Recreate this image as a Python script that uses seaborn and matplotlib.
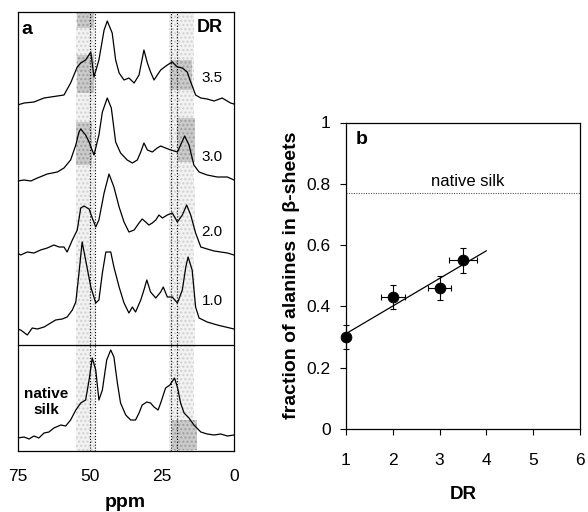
import numpy as np
import matplotlib
matplotlib.use("Agg")
import matplotlib.pyplot as plt
import seaborn as sns

# ---------------------------------------------------------------- panel a data
# 13C CP/MAS spectra, chemical shift (ppm) and intensity above own baseline
ppm_35 = [75.0, 72.7, 69.3, 65.8, 63.5, 58.9, 56.6, 54.3, 53.1, 51.4, 49.6, 48.5,
          46.8, 45.0, 43.9, 42.2, 41.0, 39.8, 38.1, 36.4, 34.6, 32.9, 31.2, 30.0,
          28.9, 27.7, 25.4, 23.1, 21.4, 19.6, 17.9, 16.2, 15.0, 13.3, 11.5, 9.3,
          6.9, 4.1, 1.2, 0.0]
int_35 = [0, 2, 3, 7, 8, 10, 22, 38, 42, 45, 53, 28, 45, 75, 84, 72, 45, 32, 25,
          27, 22, 30, 55, 42, 33, 25, 35, 40, 43, 38, 37, 33, 23, 10, 7, 6, 4, 7,
          2, 1]

ppm_30 = [75.0, 72.7, 70.4, 68.1, 64.7, 61.2, 58.9, 56.6, 54.8, 53.7, 53.1, 51.4,
          50.2, 48.5, 46.8, 45.6, 43.9, 42.5, 41.0, 39.3, 37.0, 35.2, 33.5, 32.3,
          31.2, 30.0, 28.3, 26.6, 25.4, 23.7, 21.9, 19.6, 18.5, 17.1, 15.6, 13.9,
          12.1, 9.3, 5.8, 2.3, 0.0]
int_30 = [0, 1, 0, 3, 7, 9, 13, 21, 36, 49, 52, 46, 39, 26, 46, 69, 83, 73, 39,
          28, 21, 18, 21, 29, 38, 31, 29, 33, 35, 33, 31, 29, 36, 45, 36, 16, 9, 6,
          4, 4, 1]

ppm_20 = [75.0, 73.9, 71.6, 69.3, 67.0, 64.7, 62.4, 60.6, 58.9, 57.8, 56.0, 54.3,
          53.1, 52.0, 50.2, 49.1, 47.9, 46.8, 45.0, 43.3, 41.6, 39.8, 38.1, 36.4,
          34.6, 32.9, 31.8, 30.6, 29.5, 28.3, 27.1, 26.0, 24.8, 23.1, 21.4, 19.6,
          17.9, 16.4, 15.0, 13.3, 11.5, 9.3, 6.9, 4.6, 2.3, 0.0]
int_20 = [1, -1, 2, 1, 4, 6, 9, 7, 7, 2, 14, 24, 46, 48, 45, 36, 27, 34, 61, 80,
          67, 47, 32, 22, 24, 31, 35, 32, 29, 31, 34, 39, 36, 39, 41, 32, 39, 49,
          39, 21, 7, 5, 3, 2, 1, -1]

ppm_10 = [75.0, 73.9, 71.6, 69.9, 68.1, 65.8, 63.5, 61.8, 59.5, 57.8, 56.0, 54.8,
          53.7, 52.6, 51.4, 49.6, 47.9, 46.8, 45.6, 44.4, 42.7, 41.6, 39.8, 38.1,
          36.4, 35.2, 34.1, 32.3, 31.2, 30.2, 28.9, 27.1, 25.4, 24.5, 23.1, 21.4,
          19.6, 17.9, 16.7, 15.9, 14.5, 13.3, 12.1, 9.3, 5.8, 2.9, 0.0]
int_10 = [2, 1, -4, 3, 2, 4, 8, 11, 12, 14, 21, 29, 58, 89, 71, 44, 28, 31, 58,
          79, 79, 64, 44, 28, 18, 24, 19, 31, 41, 51, 39, 33, 39, 44, 34, 34, 28,
          41, 64, 74, 61, 24, 13, 9, 6, 4, 2]

ppm_nat = [75.0, 72.7, 71.0, 69.3, 67.6, 65.8, 64.1, 62.4, 60.0, 58.3, 56.6, 54.8,
           53.1, 51.4, 50.2, 49.1, 47.9, 46.8, 45.6, 44.1, 42.7, 41.6, 40.4, 39.3,
           37.5, 35.8, 34.1, 32.9, 31.8, 30.2, 28.9, 27.7, 26.3, 25.4, 23.7, 22.2,
           20.6, 19.6, 18.5, 17.3, 15.6, 13.9, 11.5, 9.3, 6.9, 4.6, 2.3, 0.0]
int_nat = [0, 1, -1, 2, 0, 5, 6, 10, 13, 12, 18, 28, 35, 38, 58, 80, 68, 38, 48,
           78, 88, 81, 55, 35, 23, 18, 18, 25, 33, 36, 35, 31, 28, 35, 50, 53, 60,
           51, 35, 25, 20, 13, 6, 4, 3, 4, 2, 3]

dr_labels = ["3.5", "3.0", "2.0", "1.0"]
ppm_ticks = [75, 50, 25, 0]
ref_lines = [50.0, 48.3, 21.8, 19.8]      # dotted reference shifts

# ---------------------------------------------------------------- panel b data
dr = [1.0, 2.0, 3.0, 3.5]
frac = [0.30, 0.43, 0.46, 0.55]
frac_err = [0.04, 0.04, 0.04, 0.04]
dr_err = [0.0, 0.25, 0.25, 0.30]
native_frac = 0.77

# ---------------------------------------------------------------- layout
offsets = [346, 270, 197, 120, 13]        # stacking baselines (panel units)
label_y = [373, 294, 219, 150]
sep_y = 106
# shaded regions: (ppm_hi, ppm_lo, y0, y1, dark)
shades = [(54.7, 48.2, 0, 439, False), (22.5, 13.9, 0, 439, False),
          (54.4, 48.6, 423, 439, True), (54.4, 48.6, 358, 396, True),
          (22.0, 14.5, 361, 391, True), (54.8, 49.3, 286, 329, True),
          (19.9, 13.6, 289, 333, True), (21.6, 13.6, 211, 264, False),
          (54.4, 47.9, 104, 161, False), (21.6, 13.6, 104, 178, False),
          (21.6, 12.8, 1, 31, True)]

sns.set_theme(style="white")
plt.rcParams["font.family"] = ["Liberation Sans", "DejaVu Sans"]
plt.rcParams.update({"text.color": "black", "axes.labelcolor": "black",
                     "xtick.color": "black", "ytick.color": "black"})

fig = plt.figure(figsize=(5.88, 5.12), dpi=100)
ax_a = fig.add_axes([17.5 / 588, 61 / 512, 216.5 / 588, 439 / 512])
ax_b = fig.add_axes([346 / 588, 83 / 512, 234 / 588, 306.5 / 512])

# ---------------------------------------------------------------- panel a
for x0, x1, y0, y1, dark in shades:
    if dark:
        ax_a.fill_between([x0, x1], y0, y1, facecolor="#cacaca",
                          edgecolor="#a0a0a0", hatch="....", lw=0, zorder=1)
    else:
        ax_a.fill_between([x0, x1], y0, y1, facecolor="#f2f2f2",
                          edgecolor="#d0d0d0", hatch="....", lw=0, zorder=0.5)

for x in ref_lines:
    ax_a.axvline(x, color="black", lw=0.8, ls=(0, (1, 1.6)), zorder=2)

spectra = [(ppm_35, int_35), (ppm_30, int_30), (ppm_20, int_20),
           (ppm_10, int_10), (ppm_nat, int_nat)]
for (p, i), off in zip(spectra, offsets):
    sns.lineplot(x=p, y=np.array(i) + off, ax=ax_a, color="black", lw=0.9,
                 sort=False, estimator=None, zorder=3)

ax_a.axhline(sep_y, color="black", lw=0.9, zorder=3)

for lab, y in zip(dr_labels, label_y):
    ax_a.text(7.6, y, lab, ha="center", va="center", fontsize=11)
ax_a.text(8.4, 424, "DR", ha="center", va="center", fontsize=13,
          fontweight="bold")
ax_a.text(71.8, 421, "a", ha="center", va="center", fontsize=14,
          fontweight="bold")
ax_a.text(65.0, 49, "native\nsilk", ha="center", va="center", fontsize=11,
          fontweight="bold", linespacing=1.2)

ax_a.set_xlim(75, 0)
ax_a.set_ylim(0, 439)
ax_a.set_yticks([])
ax_a.set_xticks(ppm_ticks)
ax_a.set_xticklabels([str(t) for t in ppm_ticks])
ax_a.tick_params(axis="x", direction="in", length=4, width=0.8, pad=13,
                 labelsize=12.5, top=False)
ax_a.set_xlabel("ppm", fontsize=14, fontweight="bold", labelpad=7)
for s in ax_a.spines.values():
    s.set_linewidth(0.9)
    s.set_color("black")

# ---------------------------------------------------------------- panel b
ax_b.axhline(native_frac, color="#555555", lw=0.8, ls=(0, (1, 1.2)))
ax_b.text(3.6, native_frac + 0.012, "native silk", ha="center", va="bottom",
          fontsize=12)

slope, icept = np.polyfit(dr, frac, 1)
fit_x = np.array([1.0, 4.0])
sns.lineplot(x=fit_x, y=slope * fit_x + icept, ax=ax_b, color="black", lw=0.9)

eb = ax_b.errorbar(dr, frac, yerr=frac_err, xerr=dr_err, fmt="none",
                   ecolor="black", elinewidth=0.8, capsize=2.5, capthick=0.8,
                   zorder=3)
for art in eb.lines[1] + eb.lines[2]:
    art.set_clip_on(False)
sns.scatterplot(x=dr, y=frac, ax=ax_b, color="black", s=60, edgecolor="black",
                zorder=4, clip_on=False)

ax_b.text(1.34, 0.943, "b", ha="center", va="center", fontsize=14,
          fontweight="bold")
ax_b.set_xlim(1, 6)
ax_b.set_ylim(0, 1)
ax_b.set_xticks([1, 2, 3, 4, 5, 6])
ax_b.set_yticks([0, 0.2, 0.4, 0.6, 0.8, 1])
ax_b.set_yticklabels(["0", "0.2", "0.4", "0.6", "0.8", "1"])
ax_b.tick_params(direction="out", length=4, width=0.8, labelsize=12.5,
                 bottom=True, left=True)
ax_b.tick_params(axis="x", pad=13)
ax_b.tick_params(axis="y", pad=7)
ax_b.set_xlabel("DR", fontsize=13.5, fontweight="bold", labelpad=13)
ax_b.set_ylabel("fraction of alanines in \u03b2-sheets", fontsize=14,
                fontweight="bold")
ax_b.yaxis.set_label_coords(-0.197, 0.5)
for s in ax_b.spines.values():
    s.set_linewidth(0.9)
    s.set_color("black")

fig.savefig("out.png", dpi=100, facecolor="white")
